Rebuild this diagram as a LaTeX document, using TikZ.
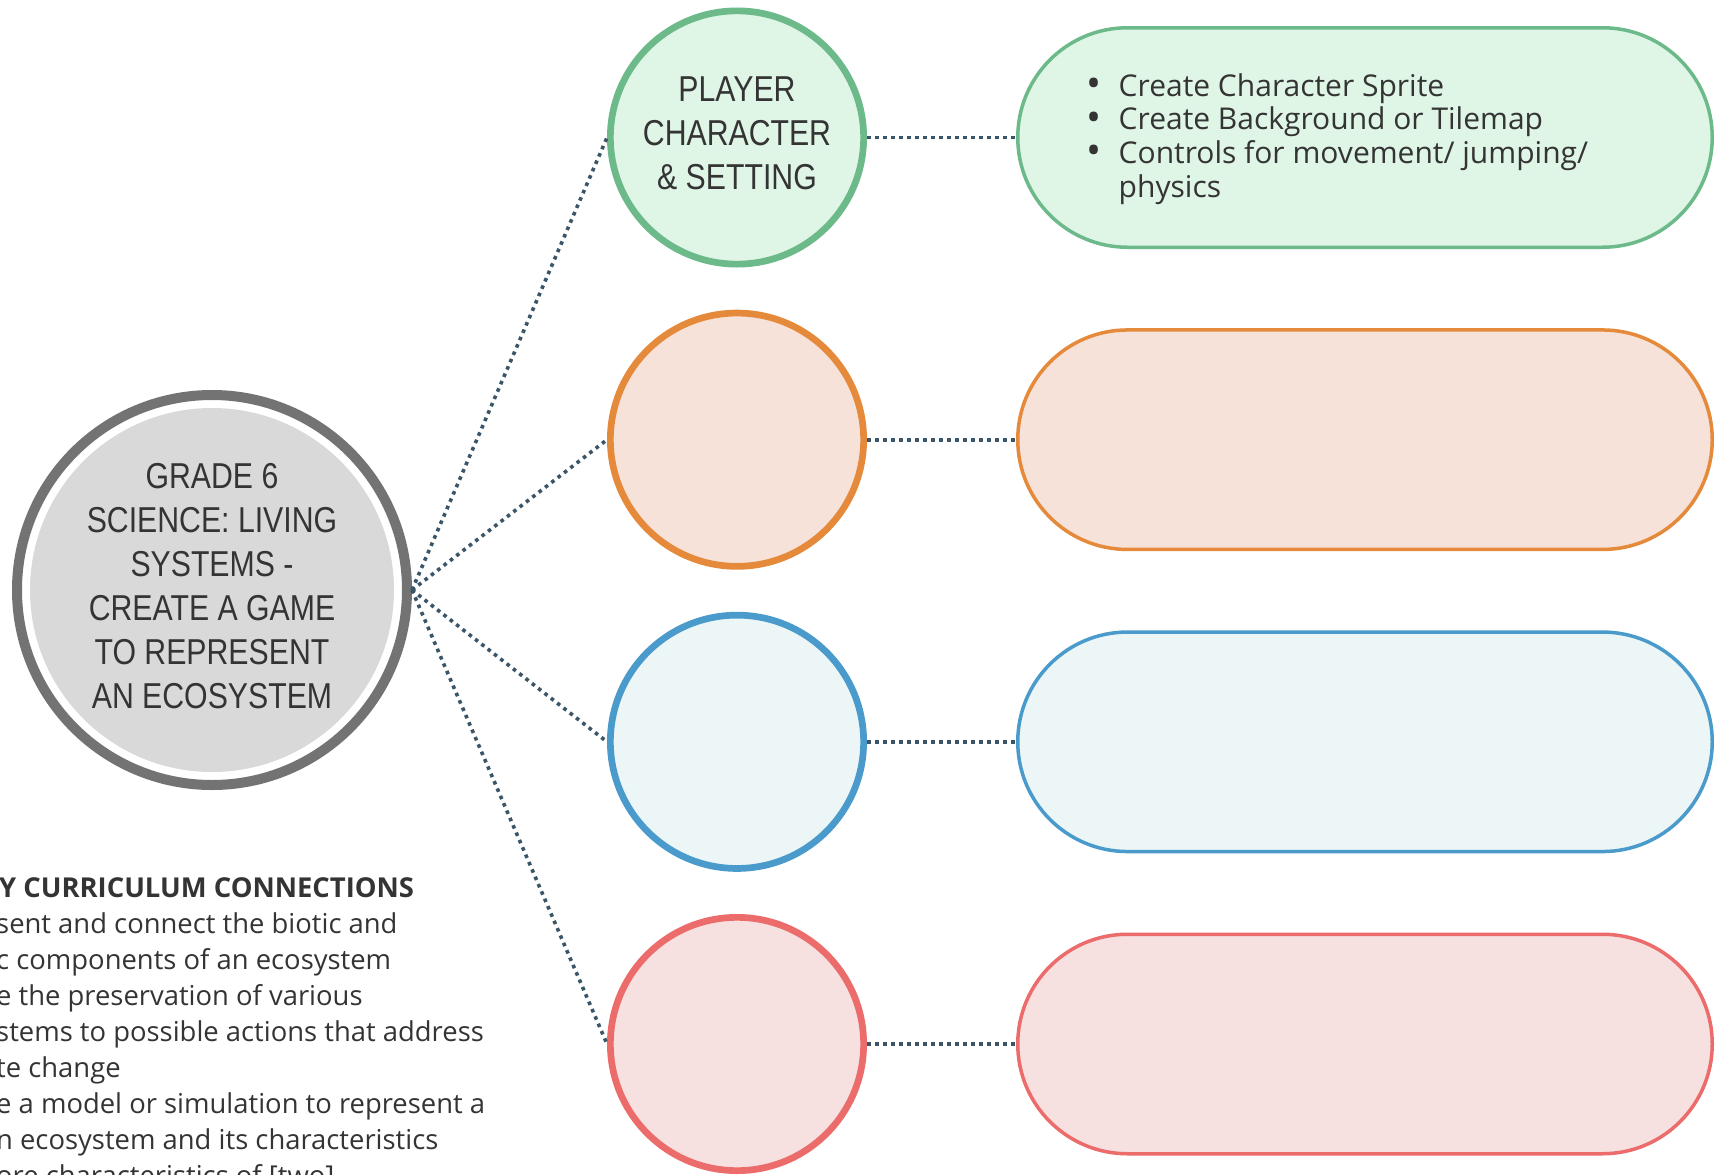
\documentclass[tikz,border=0pt]{standalone}
\usepackage{fontspec}
\usetikzlibrary{shapes.misc}
\newfontfamily\condfont[FakeStretch=0.84]{Liberation Sans}
\newfontfamily\bodyfont{Open Sans}
\definecolor{txt}{HTML}{343434}
\definecolor{ringgray}{HTML}{737373}
\definecolor{innergray}{HTML}{D9D9D9}
\definecolor{connc}{HTML}{3B5568}
\definecolor{gstroke}{HTML}{6CB98A}
\definecolor{gfill}{HTML}{DFF5E6}
\definecolor{ostroke}{HTML}{E5893B}
\definecolor{ofill}{HTML}{F7E2D9}
\definecolor{bstroke}{HTML}{4A9ACB}
\definecolor{bfill}{HTML}{ECF6F7}
\definecolor{rstroke}{HTML}{EC6B6B}
\definecolor{rfill}{HTML}{F6E0E0}
\newcommand{\bigbullet}{\makebox[32.5pt][l]{\raisebox{-1.5pt}[0pt][0pt]{\fontsize{40}{34}\selectfont\textbullet}}}
\begin{document}
\begin{tikzpicture}[x=1pt,y=-1pt,
  hub/.style={circle, draw=ringgray, line width=10pt, fill=white, minimum size=390pt, inner sep=0pt,
    path picture={\fill[innergray] (path picture bounding box.center) circle (182pt);}},
  captext/.style={align=center, text=txt, inner sep=0pt, font=\condfont\fontsize{36}{44}\selectfont},
  smallc/.style={circle, line width=6.7pt, minimum size=253.3pt, inner sep=0pt},
  pill/.style={rounded rectangle, line width=3.5pt, minimum width=694.5pt, minimum height=219.5pt, inner sep=0pt},
  conn/.style={draw=connc, line width=3.6pt, dash pattern=on 3.6pt off 4.4pt},
  pilltext/.style={anchor=base west, align=left, inner sep=0pt, text=txt, font=\bodyfont\fontsize{30}{33.7}\selectfont},
  note/.style={anchor=base west, inner sep=0pt, text=txt, font=\bodyfont\fontsize{27.4}{36}\selectfont}
]
\useasboundingbox (0,0) rectangle (1716,1175);
\fill[white] (0,0) rectangle (1716,1175);

% hub
\node[hub] (hub) at (212,590) {};
\node[captext] (hubt) at (212,586) {GRADE 6\\SCIENCE: LIVING\\SYSTEMS -\\CREATE A GAME\\TO REPRESENT\\AN ECOSYSTEM};

% circles
\node[smallc, draw=gstroke, fill=gfill] (c1) at (737,137.5) {};
\node[smallc, draw=ostroke, fill=ofill] (c2) at (737,439.7) {};
\node[smallc, draw=bstroke, fill=bfill] (c3) at (737,741.8) {};
\node[smallc, draw=rstroke, fill=rfill] (c4) at (737,1044) {};
\node[captext] (c1t) at (737,133) {PLAYER\\CHARACTER\\\& SETTING};

% pills
\node[pill, draw=gstroke, fill=gfill] (p1) at (1365,137.5) {};
\node[pill, draw=ostroke, fill=ofill] (p2) at (1365,439.7) {};
\node[pill, draw=bstroke, fill=bfill] (p3) at (1365,741.8) {};
\node[pill, draw=rstroke, fill=rfill] (p4) at (1365,1044) {};

% connectors
\foreach \i in {1,2,3,4}{
  \draw[conn] (hub.east) -- (c\i.west);
  \draw[conn] (c\i.east) -- (p\i.west);
}

% pill text (base anchor = last line's baseline)
\node[pilltext] (b1) at (1086,197.1) {\bigbullet Create Character Sprite\\
  \bigbullet Create Background or Tilemap\\
  \bigbullet Controls for movement/ jumping/\\
  \hspace*{32.5pt}physics};

% curriculum notes (cut at the left edge)
\node[note, font=\bodyfont\bfseries\fontsize{27.4}{36}\selectfont] (n1) at (-1,897.5) {Y CURRICULUM CONNECTIONS};
\node[note] (n2) at (-4,933.5) {sent and connect the biotic and};
\node[note] (n3) at (-4,969.5) {c components of an ecosystem};
\node[note] (n4) at (-4,1005.5) {e the preservation of various};
\node[note] (n5) at (-4,1041.5) {stems to possible actions that address};
\node[note] (n6) at (-4,1077.5) {te change};
\node[note] (n7) at (-4,1113.5) {e a model or simulation to represent a};
\node[note] (n8) at (-4,1149.5) {n ecosystem and its characteristics};
\node[note] (n9) at (-4,1185.5) {ore characteristics of [two]};
\end{tikzpicture}
\end{document}
